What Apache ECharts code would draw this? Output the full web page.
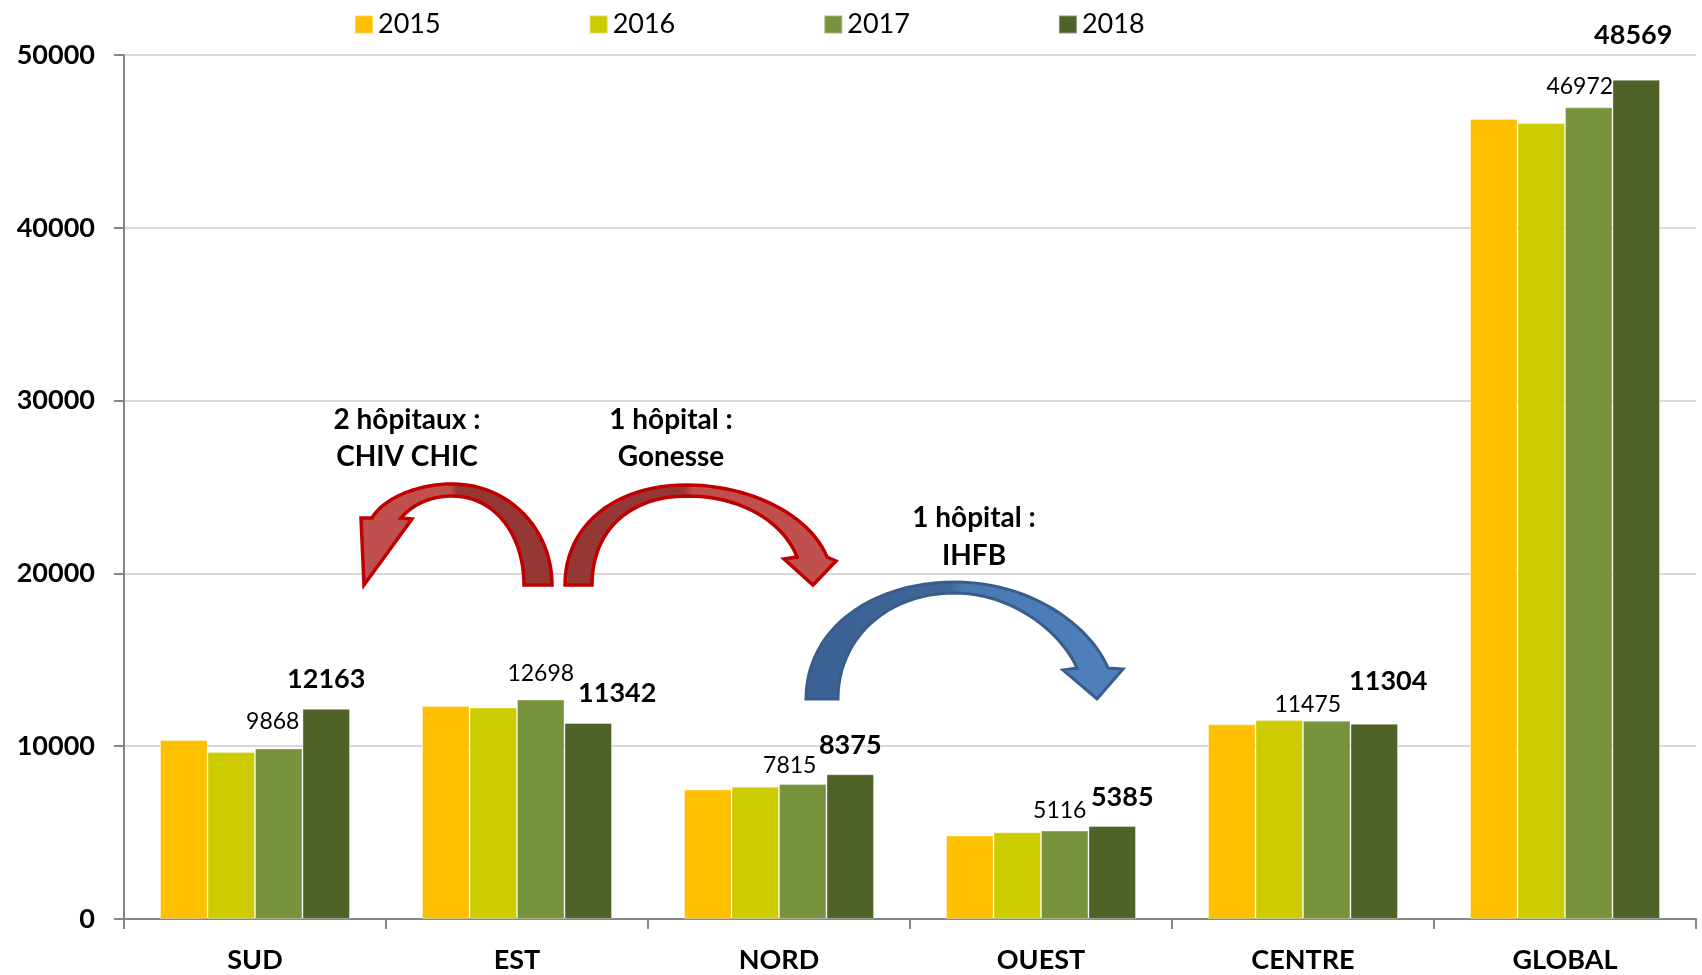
<!DOCTYPE html>
<html>
<head>
<meta charset="utf-8">
<script src="https://cdn.jsdelivr.net/npm/echarts@6/dist/echarts.min.js"></script>
<style>
html,body{margin:0;padding:0;background:#fff;}
#chart{width:1702px;height:975px;}
</style>
</head>
<body>
<div id="chart"></div>
<script>
const categories = ['SUD', 'EST', 'NORD', 'OUEST', 'CENTRE', 'GLOBAL'];
const years = ['2015', '2016', '2017', '2018'];
const values2015 = [10360, 12330, 7500, 4830, 11270, 46290];
const values2016 = [9660, 12240, 7660, 5020, 11510, 46060];
const values2017 = [9868, 12698, 7815, 5116, 11475, 46972];
const values2018 = [12163, 11342, 8375, 5385, 11304, 48569];
const yTicks = [0, 10000, 20000, 30000, 40000, 50000];

// label placement nudges (styling only)
const labelShift2017 = [[-6,0],[0,0],[-13,8],[-5,6],[-19,10],[-9,6]];
const labelShift2018 = [[0,-1],[29,-1],[0,0],[10,0],[14,-14],[-3,-16]];

const colors = ['#FFC000', '#CCCC00', '#77933C', '#4F6228'];
const FONT = 'Lato';

function withShift(vals, shifts) {
  return vals.map((v, i) => ({ value: v, label: { offset: shifts[i] } }));
}

const seriesData = [values2015, values2016,
  withShift(values2017, labelShift2017), withShift(values2018, labelShift2018)];

const series = years.map((y, i) => {
  const s = {
    name: y,
    type: 'bar',
    data: seriesData[i],
    barGap: '0%',
    barCategoryGap: '27.5%',
    itemStyle: { color: colors[i], borderColor: 'rgba(255,255,255,0.35)', borderWidth: 1 },
    label: { show: false }
  };
  if (i === 2) {
    s.label = { show: true, position: 'top', distance: 15, fontFamily: FONT, fontSize: 23, color: '#000' };
  }
  if (i === 3) {
    s.label = { show: true, position: 'top', distance: 15, fontFamily: FONT, fontSize: 27, fontWeight: 'bold', color: '#000' };
  }
  return s;
});

// convert simple path (M, L, C, Z) to polygon points
function pathToPoints(d) {
  const tok = d.match(/[MLCZ]|-?\d+(\.\d+)?/g);
  const pts = [];
  let i = 0, cur = [0, 0], cmd = null;
  while (i < tok.length) {
    if (/[MLCZ]/.test(tok[i])) { cmd = tok[i++]; if (cmd === 'Z') continue; }
    if (cmd === 'M' || cmd === 'L') {
      cur = [+tok[i], +tok[i + 1]]; i += 2; pts.push(cur);
    } else if (cmd === 'C') {
      const p0 = cur, p1 = [+tok[i], +tok[i + 1]], p2 = [+tok[i + 2], +tok[i + 3]], p3 = [+tok[i + 4], +tok[i + 5]];
      i += 6;
      for (let k = 1; k <= 24; k++) {
        const t = k / 24, u = 1 - t;
        pts.push([
          u*u*u*p0[0] + 3*u*u*t*p1[0] + 3*u*t*t*p2[0] + t*t*t*p3[0],
          u*u*u*p0[1] + 3*u*u*t*p1[1] + 3*u*t*t*p2[1] + t*t*t*p3[1]
        ]);
      }
      cur = p3;
    } else { i++; }
  }
  return pts;
}

const redFillL = { type: 'linear', x: 0, y: 0, x2: 1, y2: 0, colorStops: [
  { offset: 0, color: '#C0504D' }, { offset: 0.47, color: '#C0504D' },
  { offset: 0.5, color: '#953735' }, { offset: 1, color: '#953735' }] };
const redFillR = { type: 'linear', x: 0, y: 0, x2: 1, y2: 0, colorStops: [
  { offset: 0, color: '#953735' }, { offset: 0.44, color: '#953735' },
  { offset: 0.47, color: '#C0504D' }, { offset: 1, color: '#C0504D' }] };
const blueFill = { type: 'linear', x: 0, y: 0, x2: 1, y2: 0, colorStops: [
  { offset: 0, color: '#3C6194' }, { offset: 0.45, color: '#3F659A' },
  { offset: 0.5, color: '#4A78B2' }, { offset: 1, color: '#4F81BD' }] };

const arrow1 = 'M552,585 C552,530 510,484 452,484 C415,484 382,500 372,518 L361,518 L364,585 L412,519 L401,518 C412,505 430,496 452,496 C495,496 524,535 524,585 Z';
const arrow2 = 'M565,585 C565,525 615,485 687,485 C750,485 810,515 827,557 L836,561 L813,585 L784,559 L797,557 C785,525 745,496 687,496 C630,496 592,530 592,585 Z';
const arrow3 = 'M806,699 C806,630 870,582 955,582 C1030,582 1090,625 1108,668 L1123,669 L1097,699 L1063,670 L1077,668 C1060,630 1010,593 955,593 C885,593 838,640 838,699 Z';

function arrowEl(d, fill, stroke, lw) {
  return { type: 'polygon', z: 90, shape: { points: pathToPoints(d) },
    style: { fill: fill, stroke: stroke, lineWidth: lw, lineJoin: 'miter' } };
}

function annot(x, y, text) {
  return { type: 'text', x: x, y: y, z: 100, style: { text: text, fill: '#000', fontFamily: FONT, fontSize: 28, fontWeight: 'bold', align: 'center', verticalAlign: 'middle' } };
}

const option = {
  animation: false,
  textStyle: { fontFamily: FONT },
  color: colors,
  legend: {
    data: years,
    left: 354,
    top: 11,
    padding: 0,
    icon: 'rect',
    itemWidth: 18,
    itemHeight: 18,
    itemGap: 148,
    textStyle: { fontFamily: FONT, fontSize: 27, color: '#000' }
  },
  grid: { left: 124, right: 6, top: 55, bottom: 56, containLabel: false },
  xAxis: {
    type: 'category',
    data: categories,
    axisLine: { lineStyle: { color: '#868686', width: 2 } },
    axisTick: { show: true, length: 10, lineStyle: { color: '#868686', width: 2 } },
    axisLabel: { fontFamily: FONT, fontSize: 27, fontWeight: 'bold', color: '#000', margin: 28 }
  },
  yAxis: {
    type: 'value',
    min: yTicks[0],
    max: yTicks[yTicks.length - 1],
    interval: yTicks[1] - yTicks[0],
    axisLine: { show: true, lineStyle: { color: '#868686', width: 2 } },
    axisTick: { show: true, length: 10, lineStyle: { color: '#868686', width: 2 } },
    splitLine: { lineStyle: { color: '#D9D9D9', width: 2 } },
    axisLabel: { fontFamily: FONT, fontSize: 27, fontWeight: 'bold', color: '#000', margin: 29,
      formatter: function (v) { return String(v); } }
  },
  series: series,
  graphic: [
    arrowEl(arrow1, redFillL, '#C00000', 3.5),
    arrowEl(arrow2, redFillR, '#C00000', 3.5),
    arrowEl(arrow3, blueFill, '#385D8A', 3),
    annot(407, 420, '2 hôpitaux :'),
    annot(407, 457, 'CHIV CHIC'),
    annot(671, 420, '1 hôpital :'),
    annot(671, 457, 'Gonesse'),
    annot(974, 518, '1 hôpital :'),
    annot(974, 556, 'IHFB')
  ]
};

const chart = echarts.init(document.getElementById('chart'), null, { renderer: 'canvas' });
chart.setOption(option);
</script>
</body>
</html>
